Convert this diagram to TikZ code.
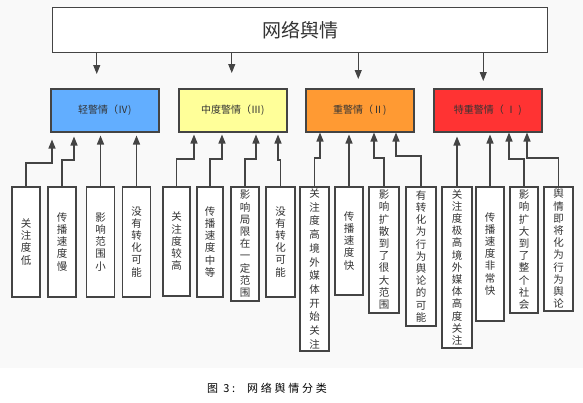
\documentclass[tikz,border=0pt]{standalone}
\usepackage{fontspec}
\setmainfont{Liberation Sans}
\newfontfamily\cjk{Noto Sans CJK SC}
\newfontfamily\capfont[LetterSpace=25]{Noto Sans CJK SC}
\usetikzlibrary{arrows.meta}
\definecolor{bggray}{HTML}{F9F9F9}
\definecolor{edgegray}{HTML}{444444}
\definecolor{textgray}{HTML}{333333}
\definecolor{lightblue}{HTML}{62AEFF}
\definecolor{lightyellow}{HTML}{FFFF99}
\definecolor{midorange}{HTML}{FF9A33}
\definecolor{hotred}{HTML}{FF3333}
\tikzset{
    rootbox/.style={rectangle, draw=edgegray, line width=1.2pt, fill=white, minimum width=495pt, minimum height=45pt, anchor=north west, text=textgray, font=\cjk\fontsize{19}{21}\selectfont},
    levelbox/.style={rectangle, draw=edgegray, line width=1.5pt, minimum width=108pt, minimum height=43pt, anchor=north west, text=textgray, font=\cjk\fontsize{10}{12}\selectfont},
    leafbox/.style={rectangle, draw=edgegray, line width=1.5pt, fill=white, minimum width=28pt, anchor=north, align=center, inner sep=2pt, text=textgray, font=\cjk\fontsize{10.5}{12.2}\selectfont},
    arrow/.style={line width=1.3pt, draw=edgegray, -{Triangle[length=9pt,width=7pt]}}
}

\begin{document}
\begin{tikzpicture}[x=1pt, y=-1pt]
\useasboundingbox (0,0) rectangle (583,402);
\fill[bggray] (0,0) rectangle (583,368);

% Root and warning levels
\node (root) [rootbox] at (52,7) {网络舆情};
\node (light) [levelbox, fill=lightblue] at (50,88) {轻警情（Ⅳ)};
\node (medium) [levelbox, fill=lightyellow] at (178,88) {中度警情（Ⅲ)};
\node (heavy) [levelbox, fill=midorange] at (305,88) {重警情（Ⅱ)};
\node (severe) [levelbox, fill=hotred] at (433,88) {特重警情（ Ⅰ )};

% Features of each level
\node (lightA) [leafbox, minimum height=110pt] at (26,186) {关\\注\\度\\低};
\node (lightB) [leafbox, minimum height=110pt] at (62,186) {传\\播\\速\\度\\慢};
\node (lightC) [leafbox, minimum height=110pt] at (100.5,186) {影\\响\\范\\围\\小};
\node (lightD) [leafbox, minimum height=110pt] at (136.5,186) {没\\有\\转\\化\\可\\能};
\node (mediumA) [leafbox, minimum height=109pt, minimum width=27pt] at (176.5,186) {关\\注\\度\\较\\高};
\node (mediumB) [leafbox, minimum height=110pt, minimum width=26pt] at (210,186) {传\\播\\速\\度\\中\\等};
\node (mediumC) [leafbox, minimum height=114pt] at (245,186) {影\\响\\局\\限\\在\\一\\定\\范\\围};
\node (mediumD) [leafbox, minimum height=110pt, minimum width=29pt] at (280.5,186) {没\\有\\转\\化\\可\\能};
\node (heavyA) [leafbox, minimum height=155pt, minimum width=29pt, font=\cjk\fontsize{10.5}{13.7}\selectfont] at (314.5,186) {关\\注\\度\\高\\境\\外\\媒\\体\\开\\始\\关\\注};
\node (heavyB) [leafbox, minimum height=108pt] at (349,186) {传\\播\\速\\度\\快};
\node (heavyC) [leafbox, minimum height=126pt, minimum width=30pt] at (384,186) {影\\响\\扩\\散\\到\\了\\很\\大\\范\\围};
\node (heavyD) [leafbox, minimum height=139pt, minimum width=30pt] at (421,186) {有\\转\\化\\为\\行\\为\\舆\\论\\的\\可\\能};
\node (severeA) [leafbox, minimum height=161pt, minimum width=30pt] at (457,186) {关\\注\\度\\极\\高\\境\\外\\媒\\体\\高\\度\\关\\注};
\node (severeB) [leafbox, minimum height=134pt] at (490,186) {传\\播\\速\\度\\非\\常\\快};
\node (severeC) [leafbox, minimum height=126pt] at (524,186) {影\\响\\扩\\大\\到\\了\\整\\个\\社\\会};
\node (severeD) [leafbox, minimum height=124pt, minimum width=29pt] at (558.5,186) {舆\\情\\即\\将\\化\\为\\行\\为\\舆\\论};

\node (caption) [font=\capfont\fontsize{11}{13}\selectfont] at (267,388) {图 3:\hspace{12pt}网络舆情分类};

% Root to levels
\coordinate (lightIn) at ([xshift=-8pt,yshift=14pt]light.north);
\coordinate (mediumIn) at ([xshift=-1pt,yshift=15pt]medium.north);
\coordinate (heavyIn) at ([xshift=-1.5pt,yshift=9pt]heavy.north);
\coordinate (severeIn) at ([xshift=-4.5pt,yshift=7pt]severe.north);
\draw [arrow, line width=1pt] (root.south -| lightIn) -- (lightIn);
\draw [arrow, line width=1pt] (root.south -| mediumIn) -- (mediumIn);
\draw [arrow, line width=1pt] (root.south -| heavyIn) -- (heavyIn);
\draw [arrow, line width=1pt] (root.south -| severeIn) -- (severeIn);

% Features to levels
\draw [arrow] (lightA.north) -- ++(0,-23) -| ([xshift=2pt,yshift=-7pt]light.south west);
\draw [arrow] (lightB.north) -- ++(0,-26) -| ([xshift=24pt,yshift=-4pt]light.south west);
\draw [arrow] (lightC.north) -- ([yshift=-3pt]lightC.north |- light.south);
\draw [arrow] (lightD.north) -- ([yshift=-3pt]lightD.north |- light.south);

\draw [arrow] (mediumA.north) -- ++(0,-27) -| ([xshift=16pt,yshift=-2pt]medium.south west);
\draw [arrow] (mediumB.north) -- ++(0,-27) -| ([xshift=44pt,yshift=-2pt]medium.south west);
\draw [arrow] (mediumC.north) -- ++(0,-27) -| ([xshift=78pt,yshift=-2pt]medium.south west);
\draw [arrow] (mediumD.north) -- ++(0,-26) -| ([xshift=100pt,yshift=-2pt]medium.south west);

\draw [arrow] (heavyA.north) -- ++(0,-28) -| ([xshift=15pt]heavy.south west);
\draw [arrow] (heavyB.north) -- ([yshift=-2pt]heavyB.north |- heavy.south);
\draw [arrow] (heavyC.north) -- ++(0,-28) -| ([xshift=69pt]heavy.south west);
\draw [arrow] (heavyD.north) -- ++(0,-30) -| ([xshift=91pt]heavy.south west);

\draw [arrow] (severeA.north) -- ([yshift=-4pt]severeA.north |- severe.south);
\draw [arrow] (severeB.north) -- ([yshift=-2pt]severeB.north |- severe.south);
\draw [arrow] (severeC.north) -- ++(0,-27) -| ([xshift=76pt]severe.south west);
\draw [arrow] (severeD.north) -- ++(0,-28) -| ([xshift=94pt]severe.south west);

\end{tikzpicture}
\end{document}
